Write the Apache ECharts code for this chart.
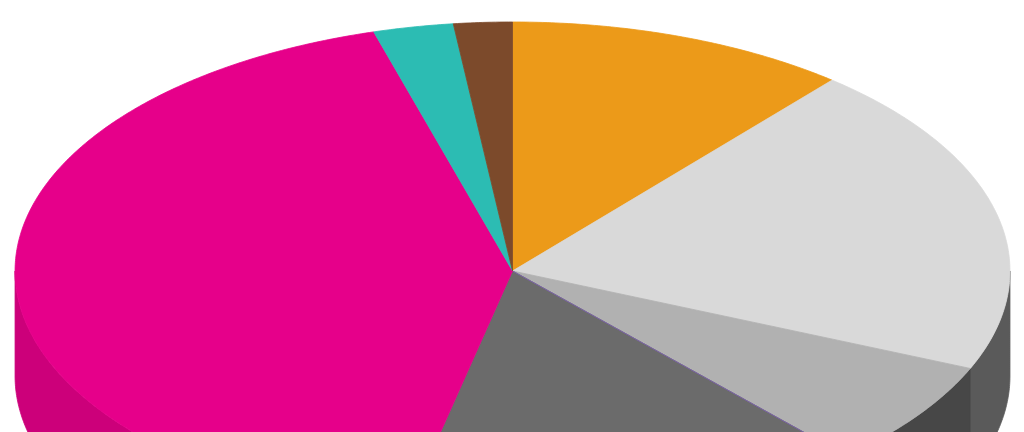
<!DOCTYPE html>
<html>
<head>
<meta charset="utf-8">
<script src="https://cdn.jsdelivr.net/npm/echarts@6/dist/echarts.min.js"></script>
<style>
html,body{margin:0;padding:0;background:#ffffff;}
#c{width:1024px;height:432px;}
</style>
</head>
<body>
<div id="c"></div>
<script>
// ---- data ----
const categories = ['Slice 1', 'Slice 2', 'Slice 3', 'Slice 4', 'Slice 5', 'Slice 6', 'Slice 7'];
const values = [11.1, 20.3, 6.9, 15.2, 42.0, 2.6, 1.9];
const topColors = ['#ec9a19', '#d9d9d9', '#b1b1b1', '#6b6b6b', '#e6008a', '#2cbcb3', '#7c4a2b'];
const sideColors = ['#b8740f', '#5a5a5a', '#474747', '#3a3a3a', '#cc007a', '#1f8f88', '#5c361f'];

const total = values.reduce((a, b) => a + b, 0);
const starts = [];
(function () { let acc = 0; values.forEach(v => { starts.push(acc / total * 360); acc += v; }); })();

function geom(api) {
  const w = api.getWidth(), h = api.getHeight();
  return { cx: w * 0.5005, cy: h * 0.6273, rx: w * 0.4858, ry: h * 0.5764, depth: h * 0.243 };
}
function arcPts(g, a1, a2, dy) {
  const pts = [];
  const n = Math.max(2, Math.ceil((a2 - a1) / 0.5));
  for (let i = 0; i <= n; i++) {
    const a = (a1 + (a2 - a1) * i / n) * Math.PI / 180;
    pts.push([g.cx + g.rx * Math.sin(a), g.cy - g.ry * Math.cos(a) + dy]);
  }
  return pts;
}

function renderSide(params, api) {
  const i = params.dataIndex;
  const g = geom(api);
  const a1 = starts[i], a2 = starts[i] + api.value(0) / total * 360;
  const s = Math.max(a1, 90), e = Math.min(a2, 270);
  if (s >= e) return null;
  const pts = arcPts(g, s, e, 0).concat(arcPts(g, s, e, g.depth).reverse());
  return {
    type: 'polygon',
    shape: { points: pts },
    style: { fill: sideColors[i], stroke: sideColors[i], lineWidth: 0.8 }
  };
}

function renderTop(params, api) {
  const i = params.dataIndex;
  const g = geom(api);
  const a1 = starts[i], a2 = starts[i] + api.value(0) / total * 360;
  const pts = [[g.cx, g.cy]].concat(arcPts(g, a1, a2, 0));
  const children = [{
    type: 'polygon',
    shape: { points: pts },
    style: { fill: topColors[i], stroke: topColors[i], lineWidth: 0.8 }
  }];
  if (i === 3) {
    const p = arcPts(g, a1, a1, 0)[0];
    children.push({
      type: 'line',
      shape: { x1: g.cx, y1: g.cy, x2: p[0], y2: p[1] },
      style: { stroke: '#7a62a6', lineWidth: 1 }
    });
  }
  return { type: 'group', children: children };
}

const seriesData = values.map((v, i) => ({ name: categories[i], value: [v] }));

const chart = echarts.init(document.getElementById('c'));
chart.setOption({
  animation: false,
  backgroundColor: '#ffffff',
  series: [
    { type: 'custom', coordinateSystem: 'none', renderItem: renderSide, data: seriesData, z: 1, silent: true },
    { type: 'custom', coordinateSystem: 'none', renderItem: renderTop, data: seriesData, z: 2, silent: true }
  ]
});
</script>
</body>
</html>
